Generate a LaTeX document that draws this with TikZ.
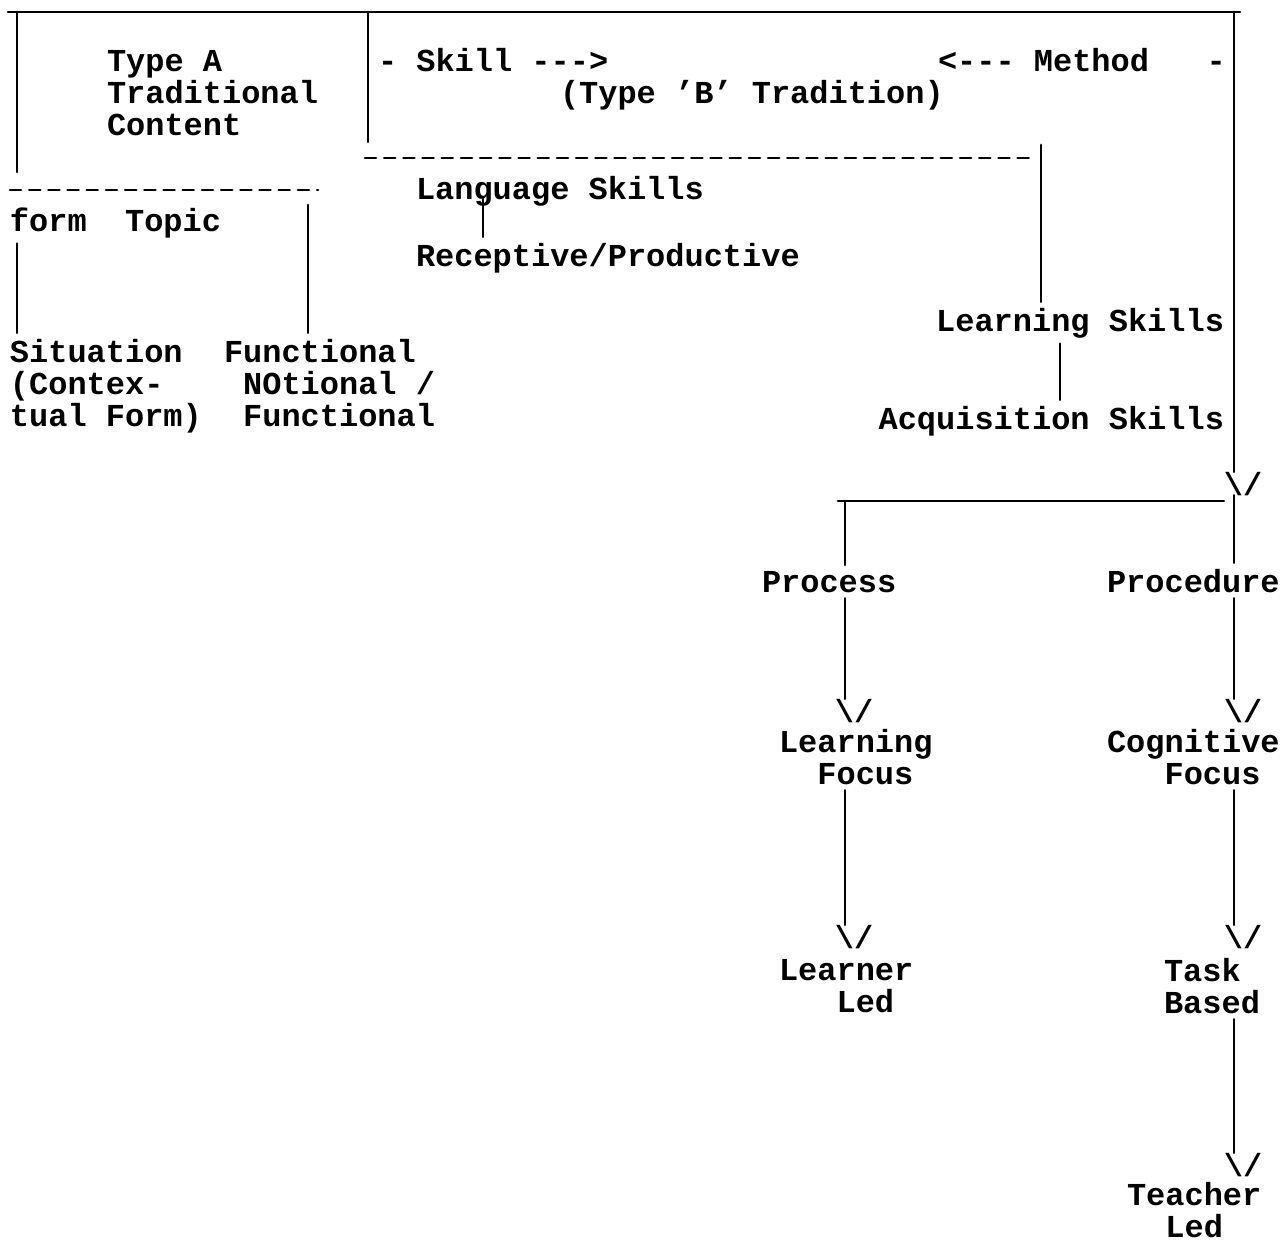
\documentclass[tikz,border=0pt]{standalone}
\usepackage{fontspec}
\setmonofont{Liberation Mono}

\begin{document}
\begin{tikzpicture}[x=0.02cm,y=-0.02cm,line width=1.6pt,line cap=round,line join=round,
  txt/.style={font=\ttfamily\bfseries\fontsize{18.2}{18.2}\selectfont,inner sep=0pt,outer xsep=0pt,outer ysep=0.12cm,align=left,anchor=base west},
  vee/.style={font=\ttfamily\bfseries\fontsize{18.2}{18.2}\selectfont,inner sep=0pt,outer sep=0pt,anchor=base},
  typed/.style={dash pattern=on 0.22cm off 0.164cm}]
\useasboundingbox (0,0) rectangle (1282,1242);
\draw (8,12) -- (1240,12)
  (17,12) -- (17,172)
  (368,12) -- (368,142);
\draw[typed]
  (10,190) -- (318,190)
  (365,158) -- (1035,158);
% type A side (base = last line)
\node[txt] (typeA) at (107,135) {Type A\\Traditional\\Content};
\node[txt] (form) at (10,231) {form~~Topic};
\node[txt] (situation) at (10,426) {Situation\\(Contex-\\tual Form)};
\node[txt] (functional) at (224,426) {Functional\\~NOtional /\\~Functional};
% type B side
\node[txt] (skill) at (378,71) {-~Skill -{}-{}->};
\node[txt] (method) at (938,71) {<-{}-{}- Method~~~-};
\node[txt] (tradB) at (560,103) {(Type ’B’ Tradition)};
\node[txt] (langsk) at (416,199) {Language Skills};
\node[txt] (recprod) at (416,266) {Receptive/Productive};
\node[txt,anchor=base east] (learnsk) at (1224,331) {Learning Skills};
\node[txt,anchor=base east] (acqsk) at (1224,429) {Acquisition Skills};
\node[txt] (process) at (762,592) {Process};
\node[txt] (procedure) at (1107,592) {Procedure};
\node[txt] (learnfocus) at (779,784) {Learning\\~~Focus};
\node[txt] (cogfocus) at (1107,784) {Cognitive\\~~~Focus};
\node[txt] (learner) at (779,1012) {Learner\\~~~Led};
\node[txt] (task) at (1164,1013) {Task\\Based};
\node[txt] (teacher) at (1127,1237) {Teacher\\~~Led};
\node[vee] (v0) at (1243,495) {\textbackslash/};
\node[vee] (v1) at (854,722) {\textbackslash/};
\node[vee] (v2) at (1243,722) {\textbackslash/};
\node[vee] (v3) at (854,948) {\textbackslash/};
\node[vee] (v4) at (1243,948) {\textbackslash/};
\node[vee] (v5) at (1243,1176) {\textbackslash/};
\coordinate (lx) at (17,0);
\coordinate (tx) at (308,0);
\coordinate (lsx) at (483,0);
\coordinate (dx) at (1041,0);
\coordinate (ax) at (1060,0);
\coordinate (lcol) at (845,0);
\coordinate (rcol) at (1234,0);
\coordinate (fork) at (838,501);
%links
\draw (form.south -| lx) -- (situation.north -| lx);
\draw (308,205) -- (functional.north -| tx);
\draw (langsk.base -| lsx) -- (recprod.north -| lsx);
\draw (1041,145) -- (learnsk.north -| dx);
\draw (learnsk.south -| ax) -- (acqsk.north -| ax);
\draw (1234,12) -- (v0.north -| rcol);
\draw (fork) -- (fork -| v0.west);
\draw (fork -| lcol) -- (process.north -| lcol);
\draw (v0.south -| rcol) -- (procedure.north -| rcol);
\draw (process.south -| lcol) -- (v1.north -| lcol);
\draw (procedure.south -| rcol) -- (v2.north -| rcol);
\draw (learnfocus.south -| lcol) -- (v3.north -| lcol);
\draw (cogfocus.south -| rcol) -- (v4.north -| rcol);
\draw (task.south -| rcol) -- (v5.north -| rcol);
\end{tikzpicture}
\end{document}
